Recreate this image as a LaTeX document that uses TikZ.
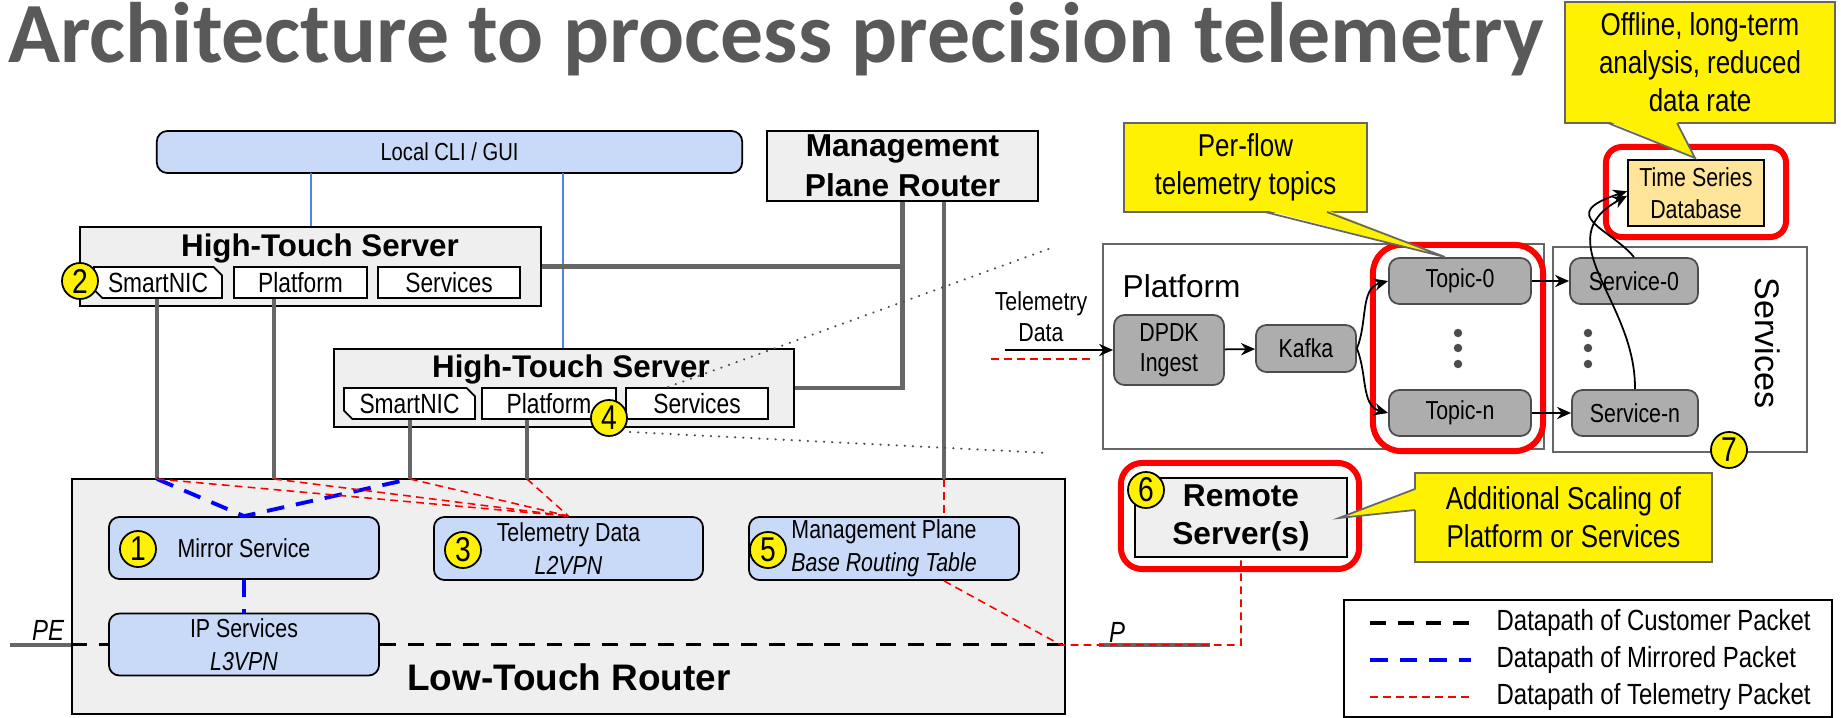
\documentclass[tikz,border=0pt]{standalone}
\usepackage{fontspec}
\setmainfont{Liberation Sans}
\newfontfamily\narrow[FakeStretch=0.82]{Liberation Sans}
\newfontfamily\titlefont{Carlito}
\usetikzlibrary{arrows.meta,shapes.misc}

\definecolor{boxgray}{HTML}{EFEFEF}
\definecolor{paleblue}{HTML}{C9DAF8}
\definecolor{procgray}{HTML}{ADADAD}
\definecolor{linkgray}{HTML}{666666}
\definecolor{titlegray}{HTML}{595959}
\definecolor{tsdbfill}{HTML}{FFE599}
\definecolor{cliblue}{HTML}{4A86E8}

\begin{document}
\begin{tikzpicture}[x=0.01cm,y=-0.01cm,
  font=\narrow\fontsize{7.4}{8.5}\selectfont,
  every node/.style={inner sep=0pt, align=center},
  graybox/.style={draw=black, line width=0.5pt, fill=boxgray},
  subbox/.style={draw=black, line width=0.5pt, fill=white, minimum height=0.31cm, font=\narrow\fontsize{7.9}{9}\selectfont},
  nicbox/.style={subbox, chamfered rectangle, chamfered rectangle corners={north east,south west}, chamfered rectangle xsep=1.2pt, chamfered rectangle ysep=1.2pt},
  bluebox/.style={draw=black, line width=0.5pt, fill=paleblue, rounded corners=3pt, minimum width=2.7cm, minimum height=0.62cm, font=\narrow\fontsize{7.4}{9.4}\selectfont},
  procbox/.style={draw=black!70, line width=0.5pt, fill=procgray, rounded corners=3pt},
  badge/.style={circle, draw=black, line width=0.5pt, fill=yellow, minimum size=0.36cm, font=\narrow\fontsize{9.8}{10}\selectfont},
  redring/.style={draw=red, line width=1.7pt, rounded corners=6pt},
  callout/.style={draw=black!60, line width=0.5pt, fill=yellow, font=\narrow\fontsize{9}{10.8}\selectfont},
  link/.style={draw=linkgray, line width=1.3pt},
  custpath/.style={draw=black, line width=1.1pt, dash pattern=on 4.5pt off 3.4pt},
  mirrpath/.style={draw=blue, line width=1.1pt, dash pattern=on 5pt off 3.4pt},
  telpath/.style={draw=red, line width=0.45pt, dash pattern=on 2.2pt off 1.5pt},
  zoomline/.style={draw=black!70, line width=0.6pt, dash pattern=on 0.1pt off 2.2pt, line cap=round},
  flow/.style={draw=black, line width=0.5pt, -{Stealth[length=4pt,width=3.5pt]}},
]
\useasboundingbox (0,0) rectangle (1841,718);

\node[anchor=base west, font=\titlefont\bfseries\fontsize{24.4}{28}\selectfont, text=titlegray] (title) at (8,62) {Architecture to process precision telemetry};

% management side
\node[draw=black, line width=0.5pt, fill=paleblue, rounded corners=3pt, minimum width=5.85cm, minimum height=0.42cm, font=\narrow\fontsize{7}{8}\selectfont] (cli) at (449.5,152) {Local CLI / GUI};
\node[graybox, minimum width=2.71cm, minimum height=0.70cm, font=\normalfont\bfseries\fontsize{9}{11.5}\selectfont] (mpr) at (902.5,166) {Management\\Plane Router};

% low-touch router
\node[graybox, minimum width=9.93cm, minimum height=2.35cm] (ltr) at (568.5,596.5) {};
\node[font=\normalfont\bfseries\fontsize{10.5}{12}\selectfont] (ltrlbl) at (569,677) {Low-Touch Router};
\node[bluebox] (mirror) at (244,548) {Mirror Service};
\node[bluebox] (ipserv) at (244,644.5) {IP Services\\\textit{L3VPN}};
\node[bluebox, minimum width=2.69cm, minimum height=0.63cm] (teld) at (568.5,548.5) {Telemetry Data\\\textit{L2VPN}};
\node[bluebox, minimum height=0.63cm] (mgmt) at (884,548.5) {Management Plane\\\textit{Base Routing Table}};

% high-touch servers
\node[graybox, minimum width=4.61cm, minimum height=0.79cm] (hts1) at (310.5,266.5) {};
\node[font=\normalfont\bfseries\fontsize{8.9}{10}\selectfont] (hts1lbl) at (320,248) {High-Touch Server};
\node[nicbox, minimum width=1.28cm] (nic1) at (158,282.5) {SmartNIC};
\node[subbox, minimum width=1.33cm] (plat1) at (300.5,282.5) {Platform};
\node[subbox, minimum width=1.42cm] (serv1) at (449,282.5) {Services};

\node[graybox, minimum width=4.60cm, minimum height=0.78cm] (hts2) at (564,388) {};
\node[font=\normalfont\bfseries\fontsize{8.9}{10}\selectfont] (hts2lbl) at (571,369) {High-Touch Server};
\node[nicbox, minimum width=1.31cm] (nic2) at (409.5,403.5) {SmartNIC};
\node[subbox, minimum width=1.34cm] (plat2) at (549,403.5) {Platform};
\node[subbox, minimum width=1.42cm] (serv2) at (697,403.5) {Services};

\coordinate (cliA) at (311,173);
\coordinate (cliB) at (563,173);
\coordinate (nic1b) at (157,479);
\coordinate (plat1b) at (274,479);
\coordinate (nic2b) at (410,479);
\coordinate (plat2b) at (527,479);
\coordinate (mprB) at (944,479);
\coordinate (pe) at (10,645);
\coordinate (pjoin) at (1061,645);
\coordinate (pstubA) at (1099,645);
\coordinate (pstubB) at (1210,645);
\coordinate (pend) at (1241,645);

\draw[cliblue, line width=0.4pt] (cliA) -- (cliA |- hts1.north);
\draw[cliblue, line width=0.4pt] (cliB) -- (cliB |- hts2.north);
\draw[link] (hts1.east) -- (hts1.east -| mpr.south);
\draw[link] (mpr.south) -- (mpr.south |- hts2.east) -- (hts2.east);
\draw[link] (mprB |- mpr.south) -- (mprB);
\draw[link] (nic1b |- nic1.south) -- (nic1b);
\draw[link] (plat1b |- plat1.south) -- (plat1b);
\draw[link] (nic2b |- nic2.south) -- (nic2b);
\draw[link] (plat2b |- plat2.south) -- (plat2b);
\draw[link] (pe) -- (ltr.west |- pe);
\draw[link] (pstubA) -- (pstubB);

% datapaths
\draw[custpath] (ltr.west |- ipserv.west) -- (ipserv.west);
\draw[custpath] (ipserv.east) -- (ltr.east |- ipserv.east);
\draw[mirrpath] (nic1b) -- (mirror.north) -- (nic2b);
\draw[mirrpath] (mirror.south) -- (ipserv.north);
\foreach \src in {nic1b,plat1b,nic2b,plat2b}
\draw[telpath] (\src) -- (teld.north);
\draw[telpath] (mprB) -- (mprB |- mgmt.north);

\node[font=\narrow\itshape\fontsize{8.3}{9}\selectfont] (pelbl) at (48,630) {PE};
\node[font=\narrow\itshape\fontsize{8.3}{9}\selectfont] (plbl) at (1117,632) {P};

% remote server
\node[graybox, minimum width=2.12cm, minimum height=0.79cm, font=\normalfont\bfseries\fontsize{9}{10.8}\selectfont] (remote) at (1241,517.5) {Remote\\Server(s)};
\node[redring, minimum width=2.38cm, minimum height=1.06cm] (remring) at (1240,516) {};
\draw[telpath] (mprB |- mgmt.south) -- (pjoin) -- (pend) -- (remote.south);

% zoom lines
\draw[zoomline] (668,387) -- (1054,247);
\draw[zoomline] (630,432) -- (1048,453);

% platform detail
\node[draw=black!60, line width=0.6pt, minimum width=4.41cm, minimum height=2.05cm] (platbox) at (1323.5,346.5) {};
\node[anchor=base west, font=\normalfont\fontsize{9}{11}\selectfont] (platlbl) at (1122,297) {Platform};
\node[font=\narrow\fontsize{7.4}{8.8}\selectfont] (tdlbl) at (1041,317) {Telemetry\\Data};
\node[procbox, minimum width=1.10cm, minimum height=0.70cm, font=\narrow\fontsize{7.4}{8.5}\selectfont] (dpdk) at (1169,350) {DPDK\\Ingest};
\node[procbox, minimum width=1.00cm, minimum height=0.47cm] (kafka) at (1306,348.5) {Kafka};
\node[redring, rounded corners=8pt, minimum width=1.70cm, minimum height=2.06cm] (topicring) at (1458,348) {};
\node[procbox, minimum width=1.42cm, minimum height=0.46cm] (topic0) at (1460,281) {Topic-0};
\node[procbox, minimum width=1.42cm, minimum height=0.46cm] (topicn) at (1460,413) {Topic-n};

\node[draw=black!60, line width=0.6pt, minimum width=2.54cm, minimum height=2.05cm] (servbox) at (1680,349.5) {};
\node[rotate=-90, font=\normalfont\fontsize{9.7}{11}\selectfont] (servlbl) at (1768,343) {Services};
\node[procbox, minimum width=1.28cm, minimum height=0.46cm] (serv0) at (1634,281) {Service-0};
\node[procbox, minimum width=1.26cm, minimum height=0.46cm] (servn) at (1635,413) {Service-n};
\foreach \y in {333,348,364} {
\fill[black!70] (1458,\y) circle[radius=1.2pt];
\fill[black!70] (1588,\y) circle[radius=1.2pt];
}

\node[draw=black, line width=0.5pt, fill=tsdbfill, minimum width=1.36cm, minimum height=0.66cm, font=\narrow\fontsize{7.4}{9}\selectfont] (tsdb) at (1696,193) {Time Series\\Database};
\node[redring, rounded corners=4.5pt, minimum width=1.80cm, minimum height=0.90cm] (tsdbring) at (1696,192) {};

\coordinate (tdin) at (1005,350);
\coordinate (tdredA) at (991,359);
\coordinate (tdredB) at (1095,359);
\draw[flow] (tdin) -- (dpdk.west);
\draw[telpath] (tdredA) -- (tdredB);
\draw[flow] (dpdk) -- (kafka);
\draw[flow] (kafka.east) to[out=68,in=195] (topic0.west);
\draw[flow] (kafka.east) to[out=-68,in=165] (topicn.west);
\draw[flow] (topic0) -- (serv0);
\draw[flow] (topicn) -- (servn);
\draw[flow] (serv0.north) .. controls (1610,228) and (1555,215) .. ([yshift=0.5pt]tsdb.west);
\draw[flow] (servn.north) .. controls (1636,300) and (1545,240) .. ([yshift=-0.8pt]tsdb.west);

% callouts
\node[callout, minimum width=2.43cm, minimum height=0.89cm] (perflow) at (1245.5,167.5) {Per-flow\\telemetry topics};
\fill[yellow] (1265,210) -- (1445,257) -- (1327,210) -- cycle;
\draw[black!60, line width=0.5pt] (1265,212) -- (1445,257) -- (1327,212);
\node[callout, minimum width=2.70cm, minimum height=1.21cm] (offline) at (1700,62.5) {Offline, long-term\\analysis, reduced\\data rate};
\fill[yellow] (1608,121) -- (1695,158) -- (1677,121) -- cycle;
\draw[black!60, line width=0.5pt] (1608,123) -- (1695,158) -- (1677,123);
\node[callout, minimum width=2.97cm, minimum height=0.89cm] (scaling) at (1563.5,517.5) {Additional Scaling of\\Platform or Services};
\fill[yellow] (1417,489) -- (1339,518) -- (1417,510) -- cycle;
\draw[black!60, line width=0.5pt] (1415,489) -- (1339,518) -- (1415,510);

% badges
\node[badge] (b1) at (138,549) {1};
\node[badge] (b2) at (80,281) {2};
\node[badge] (b3) at (463,550) {3};
\node[badge] (b4) at (609,418) {4};
\node[badge] (b5) at (768,550) {5};
\node[badge] (b6) at (1146,490) {6};
\node[badge] (b7) at (1729,450) {7};

% legend
\node[draw=black, line width=0.6pt, minimum width=4.88cm, minimum height=1.17cm] (legend) at (1588,658.5) {};
\foreach \y/\sty/\txt in {623/custpath/Customer,660/mirrpath/Mirrored,697/telpath/Telemetry} {
\draw[\sty] (1370,\y) -- (1471,\y);
\node[anchor=west, font=\narrow\fontsize{8.3}{9}\selectfont] (leg\y) at (1496,\y) {Datapath of \txt{} Packet};
}
\end{tikzpicture}
\end{document}
